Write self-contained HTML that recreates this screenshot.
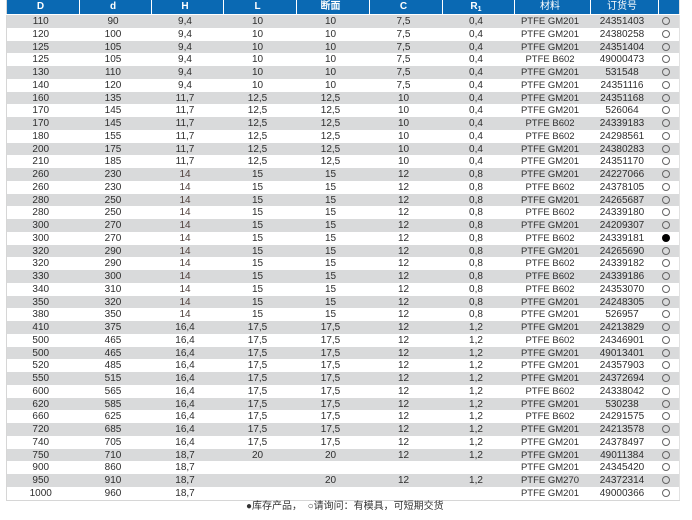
<!DOCTYPE html>
<html><head><meta charset="utf-8">
<style>
html,body{margin:0;padding:0;background:#fff;}
body{width:692px;height:520px;position:relative;overflow:hidden;font-family:"Liberation Sans","Noto Sans CJK SC",sans-serif;}
table{position:absolute;left:6px;top:0;width:673px;border-collapse:collapse;table-layout:fixed;border-left:1px solid #d6d6d6;border-right:1px solid #e2e2e2;border-bottom:1px solid #d6d6d6;}
th{background:#0a69b3;color:#fff;font-weight:bold;font-size:10px;height:14px;padding:0 5px 0 0;text-align:center;border-right:1px solid #fff;border-bottom:1px solid #fff;line-height:14px;}
th:last-child{border-right:none;}
th sub{font-size:7px;vertical-align:-2px;line-height:0;}
tbody tr{height:12.75px;}
td{padding:2px 5px 0 0;text-align:center;font-size:10px;color:#2e2e2e;line-height:10.75px;white-space:nowrap;overflow:hidden;}
td:nth-child(8){font-size:9.5px;}
tbody tr:nth-child(odd){background:#d9dadb;}
tbody tr:nth-child(even){background:#fff;}
.o{display:inline-block;width:6px;height:6px;border:1px solid #666;border-radius:50%;vertical-align:-1px;}
.f{display:inline-block;width:8px;height:8px;background:#000;border-radius:50%;vertical-align:-1px;}
.h{color:#4e3f3a;}
.foot{position:absolute;left:246px;top:500px;font-size:10px;color:#333;line-height:14px;white-space:nowrap;font-family:"Liberation Sans","Noto Sans CJK SC",sans-serif;}
</style></head><body>
<table>
<colgroup><col style="width:73px"><col style="width:72px"><col style="width:72px"><col style="width:73px"><col style="width:73px"><col style="width:73px"><col style="width:72px"><col style="width:76px"><col style="width:68px"><col style="width:21px"></colgroup>
<thead><tr><th>D</th><th>d</th><th>H</th><th>L</th><th>断面</th><th>C</th><th>R<sub>1</sub></th><th style="font-weight:normal">材料</th><th style="font-weight:normal">订货号</th><th></th></tr></thead>
<tbody>
<tr><td>110</td><td>90</td><td>9,4</td><td>10</td><td>10</td><td>7,5</td><td>0,4</td><td>PTFE GM201</td><td>24351403</td><td><span class="o"></span></td></tr>
<tr><td>120</td><td>100</td><td>9,4</td><td>10</td><td>10</td><td>7,5</td><td>0,4</td><td>PTFE GM201</td><td>24380258</td><td><span class="o"></span></td></tr>
<tr><td>125</td><td>105</td><td>9,4</td><td>10</td><td>10</td><td>7,5</td><td>0,4</td><td>PTFE GM201</td><td>24351404</td><td><span class="o"></span></td></tr>
<tr><td>125</td><td>105</td><td>9,4</td><td>10</td><td>10</td><td>7,5</td><td>0,4</td><td>PTFE B602</td><td>49000473</td><td><span class="o"></span></td></tr>
<tr><td>130</td><td>110</td><td>9,4</td><td>10</td><td>10</td><td>7,5</td><td>0,4</td><td>PTFE GM201</td><td>531548</td><td><span class="o"></span></td></tr>
<tr><td>140</td><td>120</td><td>9,4</td><td>10</td><td>10</td><td>7,5</td><td>0,4</td><td>PTFE GM201</td><td>24351116</td><td><span class="o"></span></td></tr>
<tr><td>160</td><td>135</td><td>11,7</td><td>12,5</td><td>12,5</td><td>10</td><td>0,4</td><td>PTFE GM201</td><td>24351168</td><td><span class="o"></span></td></tr>
<tr><td>170</td><td>145</td><td>11,7</td><td>12,5</td><td>12,5</td><td>10</td><td>0,4</td><td>PTFE GM201</td><td>526064</td><td><span class="o"></span></td></tr>
<tr><td>170</td><td>145</td><td>11,7</td><td>12,5</td><td>12,5</td><td>10</td><td>0,4</td><td>PTFE B602</td><td>24339183</td><td><span class="o"></span></td></tr>
<tr><td>180</td><td>155</td><td>11,7</td><td>12,5</td><td>12,5</td><td>10</td><td>0,4</td><td>PTFE B602</td><td>24298561</td><td><span class="o"></span></td></tr>
<tr><td>200</td><td>175</td><td>11,7</td><td>12,5</td><td>12,5</td><td>10</td><td>0,4</td><td>PTFE GM201</td><td>24380283</td><td><span class="o"></span></td></tr>
<tr><td>210</td><td>185</td><td>11,7</td><td>12,5</td><td>12,5</td><td>10</td><td>0,4</td><td>PTFE GM201</td><td>24351170</td><td><span class="o"></span></td></tr>
<tr><td>260</td><td>230</td><td class="h">14</td><td>15</td><td>15</td><td>12</td><td>0,8</td><td>PTFE GM201</td><td>24227066</td><td><span class="o"></span></td></tr>
<tr><td>260</td><td>230</td><td class="h">14</td><td>15</td><td>15</td><td>12</td><td>0,8</td><td>PTFE B602</td><td>24378105</td><td><span class="o"></span></td></tr>
<tr><td>280</td><td>250</td><td class="h">14</td><td>15</td><td>15</td><td>12</td><td>0,8</td><td>PTFE GM201</td><td>24265687</td><td><span class="o"></span></td></tr>
<tr><td>280</td><td>250</td><td class="h">14</td><td>15</td><td>15</td><td>12</td><td>0,8</td><td>PTFE B602</td><td>24339180</td><td><span class="o"></span></td></tr>
<tr><td>300</td><td>270</td><td class="h">14</td><td>15</td><td>15</td><td>12</td><td>0,8</td><td>PTFE GM201</td><td>24209307</td><td><span class="o"></span></td></tr>
<tr><td>300</td><td>270</td><td class="h">14</td><td>15</td><td>15</td><td>12</td><td>0,8</td><td>PTFE B602</td><td>24339181</td><td><span class="f"></span></td></tr>
<tr><td>320</td><td>290</td><td class="h">14</td><td>15</td><td>15</td><td>12</td><td>0,8</td><td>PTFE GM201</td><td>24265690</td><td><span class="o"></span></td></tr>
<tr><td>320</td><td>290</td><td class="h">14</td><td>15</td><td>15</td><td>12</td><td>0,8</td><td>PTFE B602</td><td>24339182</td><td><span class="o"></span></td></tr>
<tr><td>330</td><td>300</td><td class="h">14</td><td>15</td><td>15</td><td>12</td><td>0,8</td><td>PTFE B602</td><td>24339186</td><td><span class="o"></span></td></tr>
<tr><td>340</td><td>310</td><td class="h">14</td><td>15</td><td>15</td><td>12</td><td>0,8</td><td>PTFE B602</td><td>24353070</td><td><span class="o"></span></td></tr>
<tr><td>350</td><td>320</td><td class="h">14</td><td>15</td><td>15</td><td>12</td><td>0,8</td><td>PTFE GM201</td><td>24248305</td><td><span class="o"></span></td></tr>
<tr><td>380</td><td>350</td><td class="h">14</td><td>15</td><td>15</td><td>12</td><td>0,8</td><td>PTFE GM201</td><td>526957</td><td><span class="o"></span></td></tr>
<tr><td>410</td><td>375</td><td>16,4</td><td>17,5</td><td>17,5</td><td>12</td><td>1,2</td><td>PTFE GM201</td><td>24213829</td><td><span class="o"></span></td></tr>
<tr><td>500</td><td>465</td><td>16,4</td><td>17,5</td><td>17,5</td><td>12</td><td>1,2</td><td>PTFE B602</td><td>24346901</td><td><span class="o"></span></td></tr>
<tr><td>500</td><td>465</td><td>16,4</td><td>17,5</td><td>17,5</td><td>12</td><td>1,2</td><td>PTFE GM201</td><td>49013401</td><td><span class="o"></span></td></tr>
<tr><td>520</td><td>485</td><td>16,4</td><td>17,5</td><td>17,5</td><td>12</td><td>1,2</td><td>PTFE GM201</td><td>24357903</td><td><span class="o"></span></td></tr>
<tr><td>550</td><td>515</td><td>16,4</td><td>17,5</td><td>17,5</td><td>12</td><td>1,2</td><td>PTFE GM201</td><td>24372694</td><td><span class="o"></span></td></tr>
<tr><td>600</td><td>565</td><td>16,4</td><td>17,5</td><td>17,5</td><td>12</td><td>1,2</td><td>PTFE B602</td><td>24338042</td><td><span class="o"></span></td></tr>
<tr><td>620</td><td>585</td><td>16,4</td><td>17,5</td><td>17,5</td><td>12</td><td>1,2</td><td>PTFE GM201</td><td>530238</td><td><span class="o"></span></td></tr>
<tr><td>660</td><td>625</td><td>16,4</td><td>17,5</td><td>17,5</td><td>12</td><td>1,2</td><td>PTFE B602</td><td>24291575</td><td><span class="o"></span></td></tr>
<tr><td>720</td><td>685</td><td>16,4</td><td>17,5</td><td>17,5</td><td>12</td><td>1,2</td><td>PTFE GM201</td><td>24213578</td><td><span class="o"></span></td></tr>
<tr><td>740</td><td>705</td><td>16,4</td><td>17,5</td><td>17,5</td><td>12</td><td>1,2</td><td>PTFE GM201</td><td>24378497</td><td><span class="o"></span></td></tr>
<tr><td>750</td><td>710</td><td>18,7</td><td>20</td><td>20</td><td>12</td><td>1,2</td><td>PTFE GM201</td><td>49011384</td><td><span class="o"></span></td></tr>
<tr><td>900</td><td>860</td><td>18,7</td><td></td><td></td><td></td><td></td><td>PTFE GM201</td><td>24345420</td><td><span class="o"></span></td></tr>
<tr><td>950</td><td>910</td><td>18,7</td><td></td><td>20</td><td>12</td><td>1,2</td><td>PTFE GM270</td><td>24372314</td><td><span class="o"></span></td></tr>
<tr><td>1000</td><td>960</td><td>18,7</td><td></td><td></td><td></td><td></td><td>PTFE GM201</td><td>49000366</td><td><span class="o"></span></td></tr>
</tbody>
</table>
<div class="foot">●库存产品，&nbsp;&nbsp;○请询问：有模具，可短期交货</div>
</body></html>
